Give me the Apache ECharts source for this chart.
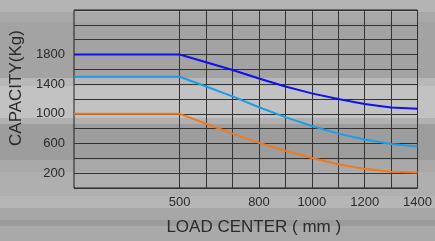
<!DOCTYPE html>
<html>
<head>
<meta charset="utf-8">
<script src="https://cdn.jsdelivr.net/npm/echarts@6/dist/echarts.min.js"></script>
<style>
  html, body { margin: 0; padding: 0; }
  #chart {
    width: 435px;
    height: 241px;
    background: linear-gradient(to bottom,
      #b4b4b4 0px, #b4b4b4 12px,
      #a8a8a8 12px, #a8a8a8 22px,
      #a3a3a3 22px, #a3a3a3 78px,
      #b8b8b8 78px, #b8b8b8 86px,
      #c2c2c2 86px, #c2c2c2 118px,
      #b0b0b0 118px, #b0b0b0 124px,
      #9d9d9d 124px, #9d9d9d 160px,
      #a8a8a8 160px, #a8a8a8 172px,
      #afafaf 172px, #afafaf 196px,
      #b6b6b6 196px, #b6b6b6 208px,
      #a7a7a7 208px, #a7a7a7 220px,
      #9b9b9b 220px, #9b9b9b 226px,
      #a9a9a9 226px, #a9a9a9 241px);
  }
</style>
</head>
<body>
<div id="chart"></div>
<script>
// load centre (mm) and rated capacity (kg) for the three models
const loadCenter = [100, 500, 600, 700, 800, 900, 1000, 1100, 1200, 1300, 1400];
const capHigh = [1800, 1800, 1695, 1590, 1476, 1369, 1276, 1200, 1133, 1085, 1067];
const capMid = [1500, 1500, 1368, 1236, 1089, 956, 836, 733, 653, 592, 560];
const capLow = [1000, 1000, 866, 733, 609, 502, 405, 320, 258, 218, 209];

const xTickLabels = [500, 800, 1000, 1200, 1400];
const yTickLabels = [200, 600, 1000, 1400, 1800];

const textColor = '#2b2b2b';
const gridColor = '#333333';
const font = 'Liberation Sans, Arial, sans-serif';

const pairs = (ys) => loadCenter.map((x, i) => [x, ys[i]]);

// vertical grid lines only from 500 mm onwards
const xLineColors = [];
for (let v = 100; v <= 1400; v += 100) {
    xLineColors.push(v < 500 ? 'rgba(0,0,0,0)' : gridColor);
}

function makeSeries(name, ys, color) {
    return {
        name: name,
        type: 'line',
        data: pairs(ys),
        showSymbol: false,
        lineStyle: { color: color, width: 2 },
        itemStyle: { color: color },
        z: 3
    };
}

const chart = echarts.init(document.getElementById('chart'));
chart.setOption({
    backgroundColor: 'transparent',
    animation: false,
    textStyle: { fontFamily: font },
    grid: {
        left: 73, right: 10, top: 10, bottom: 49,
        show: true,
        borderColor: '#1e1e1e',
        borderWidth: 1,
        backgroundColor: 'transparent'
    },
    xAxis: {
        type: 'value',
        min: 100,
        max: 1400,
        interval: 100,
        name: 'LOAD CENTER ( mm )',
        nameLocation: 'middle',
        nameGap: 31,
        nameTextStyle: { color: textColor, fontSize: 17, fontFamily: font, padding: [0, 0, 0, 16] },
        axisLine: { show: false },
        axisTick: { show: false },
        axisLabel: {
            color: textColor,
            fontSize: 13,
            margin: 8,
            showMinLabel: true,
            showMaxLabel: true,
            formatter: (v) => xTickLabels.includes(v) ? String(v) : ''
        },
        splitLine: { show: true, lineStyle: { color: xLineColors, width: 1 } }
    },
    yAxis: {
        type: 'value',
        min: 0,
        max: 2400,
        interval: 200,
        name: 'CAPACITY(Kg)',
        nameLocation: 'middle',
        nameGap: 49,
        nameTextStyle: { color: textColor, fontSize: 17, fontFamily: font, padding: [0, 0, 0, 22] },
        axisLine: { show: false },
        axisTick: { show: false },
        axisLabel: {
            color: textColor,
            fontSize: 13,
            margin: 9,
            formatter: (v) => yTickLabels.includes(v) ? String(v) : ''
        },
        splitLine: { show: true, lineStyle: { color: gridColor, width: 1 } }
    },
    series: [
        makeSeries('high', capHigh, '#1010f0'),
        makeSeries('mid', capMid, '#1a9ee6'),
        makeSeries('low', capLow, '#f07a1e')
    ]
});
</script>
</body>
</html>
